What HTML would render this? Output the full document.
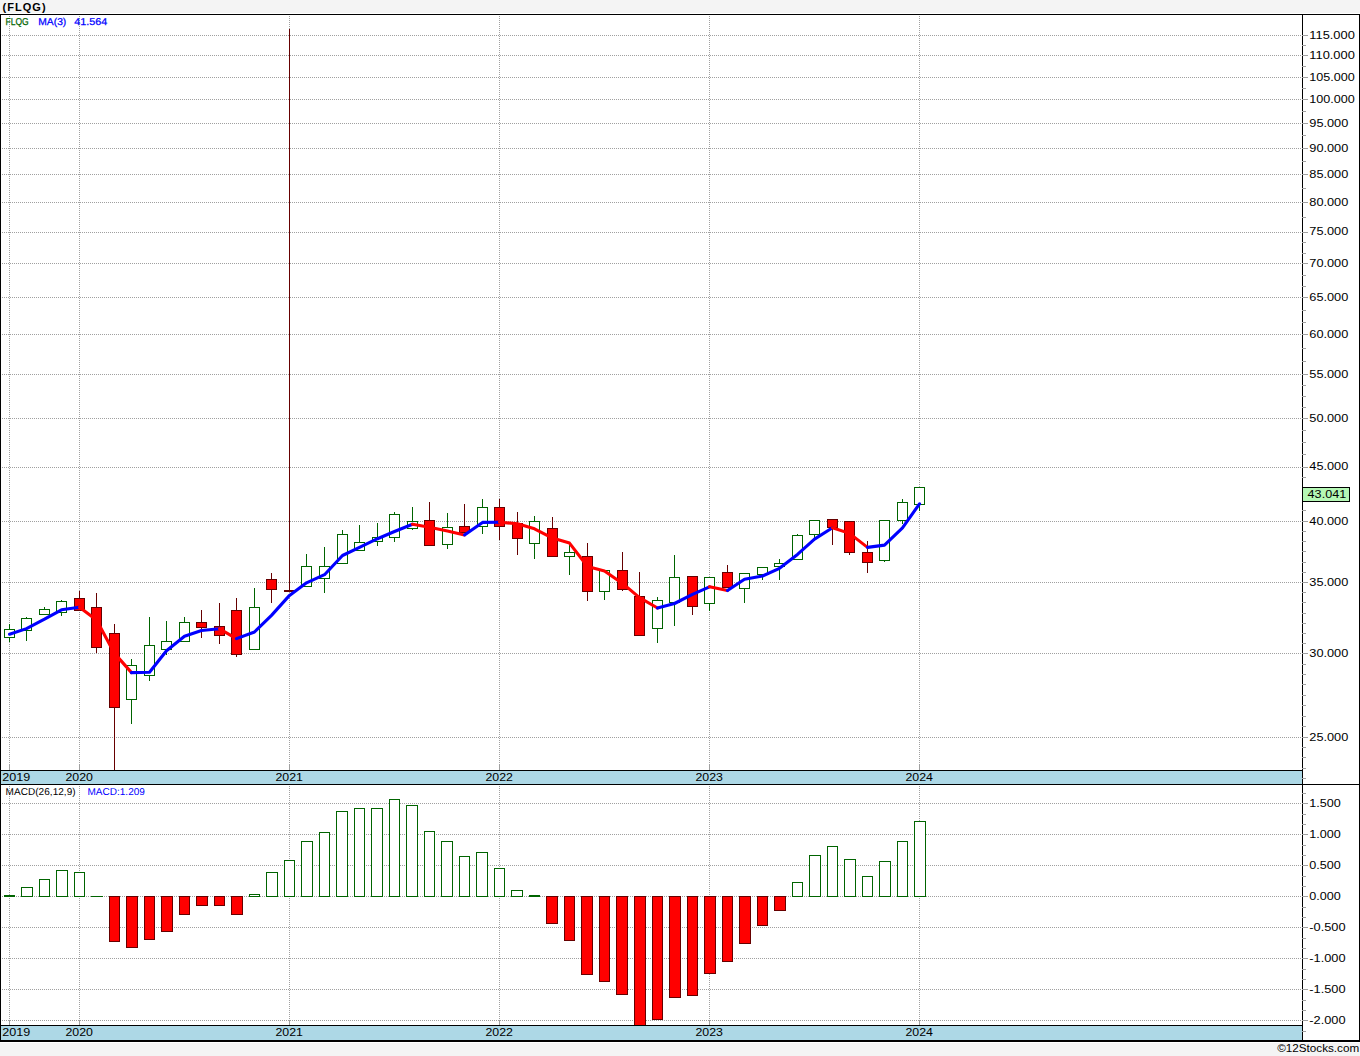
<!DOCTYPE html>
<html><head><meta charset="utf-8"><title>FLQG</title>
<style>html,body{margin:0;padding:0;background:#fff;width:1360px;height:1056px;overflow:hidden}
svg text{font-family:"Liberation Sans",sans-serif}</style></head>
<body><svg width="1360" height="1056" viewBox="0 0 1360 1056" shape-rendering="crispEdges" style="display:block"><rect x="0" y="0" width="1360" height="1056" fill="#ffffff"/>
<rect x="0" y="0" width="1360" height="13" fill="#f4f4f4"/>
<rect x="0" y="1043" width="1360" height="13" fill="#f4f4f4"/>
<path d="M0 737.5H1302 M0 653.5H1302 M0 582.5H1302 M0 521.5H1302 M0 467.5H1302 M0 418.5H1302 M0 374.5H1302 M0 334.5H1302 M0 297.5H1302 M0 263.5H1302 M0 232.5H1302 M0 202.5H1302 M0 174.5H1302 M0 148.5H1302 M0 123.5H1302 M0 99.5H1302 M0 77.5H1302 M0 55.5H1302 M0 35.5H1302" stroke="#a0a0a0" stroke-width="1" stroke-dasharray="1 1" fill="none"/>
<path d="M0 803.5H1302 M0 834.5H1302 M0 865.5H1302 M0 896.5H1302 M0 927.5H1302 M0 958.5H1302 M0 989.5H1302 M0 1020.5H1302" stroke="#a0a0a0" stroke-width="1" stroke-dasharray="1 1" fill="none"/>
<path d="M9.5 16V764 M9.5 786V1021 M79.5 16V764 M79.5 786V1021 M289.5 16V764 M289.5 786V1021 M499.5 16V764 M499.5 786V1021 M709.5 16V764 M709.5 786V1021 M919.5 16V764 M919.5 786V1021" stroke="#a0a0a0" stroke-width="1" stroke-dasharray="1 1" fill="none"/>
<path d="M9.5 764V770 M9.5 1021V1025 M79.5 764V770 M79.5 1021V1025 M289.5 764V770 M289.5 1021V1025 M499.5 764V770 M499.5 1021V1025 M709.5 764V770 M709.5 1021V1025 M919.5 764V770 M919.5 1021V1025" stroke="#a0a0a0" stroke-width="1" fill="none"/>
<path d="M9.5 624V642 M26.5 617V641 M44.5 607V615 M61.5 600V616 M131.5 659V724 M149.5 617V681 M166.5 621V655 M184.5 617V642 M254.5 588V650 M306.5 554V587 M324.5 547V593 M342.5 530V564 M359.5 525V551 M377.5 523V546 M394.5 512V542 M412.5 507V530 M447.5 513V549 M482.5 499V534 M534.5 516V559 M569.5 545V575 M604.5 570V600 M657.5 597V643 M674.5 555V626 M709.5 577V611 M744.5 573V603 M762.5 567V580 M779.5 559V580 M797.5 534V560 M814.5 520V538 M884.5 520V562 M902.5 499V524 M919.5 487V511" stroke="#006400" stroke-width="1" fill="none"/>
<path d="M79.5 591V611 M96.5 593V653 M114.5 624V770 M201.5 610V638 M219.5 603V644 M236.5 598V657 M271.5 573V603 M289.5 29V592 M429.5 502V546 M464.5 504V533 M499.5 499V540 M517.5 512V555 M552.5 517V557 M587.5 543V601 M622.5 552V591 M639.5 572V636 M692.5 576V615 M727.5 565V588 M832.5 519V545 M849.5 521V555 M867.5 541V573" stroke="#660000" stroke-width="1" fill="none"/>
<rect x="4" y="629" width="11" height="9" fill="#006400"/><rect x="5" y="630" width="9" height="7" fill="#ffffff"/><rect x="21" y="618" width="11" height="13" fill="#006400"/><rect x="22" y="619" width="9" height="11" fill="#ffffff"/><rect x="39" y="609" width="11" height="6" fill="#006400"/><rect x="40" y="610" width="9" height="4" fill="#ffffff"/><rect x="56" y="601" width="11" height="12" fill="#006400"/><rect x="57" y="602" width="9" height="10" fill="#ffffff"/><rect x="74" y="598" width="11" height="13" fill="#660000"/><rect x="75" y="599" width="9" height="11" fill="#ff0000"/><rect x="91" y="607" width="11" height="41" fill="#660000"/><rect x="92" y="608" width="9" height="39" fill="#ff0000"/><rect x="109" y="633" width="11" height="75" fill="#660000"/><rect x="110" y="634" width="9" height="73" fill="#ff0000"/><rect x="126" y="665" width="11" height="35" fill="#006400"/><rect x="127" y="666" width="9" height="33" fill="#ffffff"/><rect x="144" y="645" width="11" height="31" fill="#006400"/><rect x="145" y="646" width="9" height="29" fill="#ffffff"/><rect x="161" y="641" width="11" height="9" fill="#006400"/><rect x="162" y="642" width="9" height="7" fill="#ffffff"/><rect x="179" y="622" width="11" height="20" fill="#006400"/><rect x="180" y="623" width="9" height="18" fill="#ffffff"/><rect x="196" y="622" width="11" height="6" fill="#660000"/><rect x="197" y="623" width="9" height="4" fill="#ff0000"/><rect x="214" y="626" width="11" height="10" fill="#660000"/><rect x="215" y="627" width="9" height="8" fill="#ff0000"/><rect x="231" y="610" width="11" height="45" fill="#660000"/><rect x="232" y="611" width="9" height="43" fill="#ff0000"/><rect x="249" y="607" width="11" height="43" fill="#006400"/><rect x="250" y="608" width="9" height="41" fill="#ffffff"/><rect x="266" y="579" width="11" height="11" fill="#660000"/><rect x="267" y="580" width="9" height="9" fill="#ff0000"/><rect x="284" y="590" width="11" height="2" fill="#660000"/><rect x="301" y="566" width="11" height="21" fill="#006400"/><rect x="302" y="567" width="9" height="19" fill="#ffffff"/><rect x="319" y="566" width="11" height="13" fill="#006400"/><rect x="320" y="567" width="9" height="11" fill="#ffffff"/><rect x="337" y="534" width="11" height="30" fill="#006400"/><rect x="338" y="535" width="9" height="28" fill="#ffffff"/><rect x="354" y="542" width="11" height="9" fill="#006400"/><rect x="355" y="543" width="9" height="7" fill="#ffffff"/><rect x="372" y="537" width="11" height="5" fill="#006400"/><rect x="373" y="538" width="9" height="3" fill="#ffffff"/><rect x="389" y="514" width="11" height="24" fill="#006400"/><rect x="390" y="515" width="9" height="22" fill="#ffffff"/><rect x="407" y="521" width="11" height="8" fill="#006400"/><rect x="408" y="522" width="9" height="6" fill="#ffffff"/><rect x="424" y="520" width="11" height="26" fill="#660000"/><rect x="425" y="521" width="9" height="24" fill="#ff0000"/><rect x="442" y="527" width="11" height="18" fill="#006400"/><rect x="443" y="528" width="9" height="16" fill="#ffffff"/><rect x="459" y="526" width="11" height="7" fill="#660000"/><rect x="460" y="527" width="9" height="5" fill="#ff0000"/><rect x="477" y="507" width="11" height="20" fill="#006400"/><rect x="478" y="508" width="9" height="18" fill="#ffffff"/><rect x="494" y="507" width="11" height="20" fill="#660000"/><rect x="495" y="508" width="9" height="18" fill="#ff0000"/><rect x="512" y="523" width="11" height="16" fill="#660000"/><rect x="513" y="524" width="9" height="14" fill="#ff0000"/><rect x="529" y="521" width="11" height="23" fill="#006400"/><rect x="530" y="522" width="9" height="21" fill="#ffffff"/><rect x="547" y="528" width="11" height="29" fill="#660000"/><rect x="548" y="529" width="9" height="27" fill="#ff0000"/><rect x="564" y="552" width="11" height="5" fill="#006400"/><rect x="565" y="553" width="9" height="3" fill="#ffffff"/><rect x="582" y="556" width="11" height="36" fill="#660000"/><rect x="583" y="557" width="9" height="34" fill="#ff0000"/><rect x="599" y="570" width="11" height="22" fill="#006400"/><rect x="600" y="571" width="9" height="20" fill="#ffffff"/><rect x="617" y="570" width="11" height="20" fill="#660000"/><rect x="618" y="571" width="9" height="18" fill="#ff0000"/><rect x="634" y="596" width="11" height="40" fill="#660000"/><rect x="635" y="597" width="9" height="38" fill="#ff0000"/><rect x="652" y="600" width="11" height="29" fill="#006400"/><rect x="653" y="601" width="9" height="27" fill="#ffffff"/><rect x="669" y="577" width="11" height="26" fill="#006400"/><rect x="670" y="578" width="9" height="24" fill="#ffffff"/><rect x="687" y="576" width="11" height="31" fill="#660000"/><rect x="688" y="577" width="9" height="29" fill="#ff0000"/><rect x="704" y="577" width="11" height="27" fill="#006400"/><rect x="705" y="578" width="9" height="25" fill="#ffffff"/><rect x="722" y="572" width="11" height="16" fill="#660000"/><rect x="723" y="573" width="9" height="14" fill="#ff0000"/><rect x="739" y="573" width="11" height="16" fill="#006400"/><rect x="740" y="574" width="9" height="14" fill="#ffffff"/><rect x="757" y="567" width="11" height="8" fill="#006400"/><rect x="758" y="568" width="9" height="6" fill="#ffffff"/><rect x="774" y="563" width="11" height="4" fill="#006400"/><rect x="775" y="564" width="9" height="2" fill="#ffffff"/><rect x="792" y="535" width="11" height="25" fill="#006400"/><rect x="793" y="536" width="9" height="23" fill="#ffffff"/><rect x="809" y="520" width="11" height="15" fill="#006400"/><rect x="810" y="521" width="9" height="13" fill="#ffffff"/><rect x="827" y="519" width="11" height="9" fill="#660000"/><rect x="828" y="520" width="9" height="7" fill="#ff0000"/><rect x="844" y="521" width="11" height="32" fill="#660000"/><rect x="845" y="522" width="9" height="30" fill="#ff0000"/><rect x="862" y="552" width="11" height="11" fill="#660000"/><rect x="863" y="553" width="9" height="9" fill="#ff0000"/><rect x="879" y="520" width="11" height="41" fill="#006400"/><rect x="880" y="521" width="9" height="39" fill="#ffffff"/><rect x="897" y="502" width="11" height="19" fill="#006400"/><rect x="898" y="503" width="9" height="17" fill="#ffffff"/><rect x="914" y="487" width="11" height="18" fill="#006400"/><rect x="915" y="488" width="9" height="16" fill="#ffffff"/>
<path d="M9.5 634.2 L26.5 628.6 L44.5 619.2 L61.5 609.8 L79.5 607.3" stroke="#0000ff" stroke-width="3.1" fill="none" stroke-linejoin="round" stroke-linecap="round" shape-rendering="geometricPrecision"/>
<path d="M79.5 607.3 L96.5 619.9 L114.5 653.4 L131.5 672.6" stroke="#ff0000" stroke-width="3.1" fill="none" stroke-linejoin="round" stroke-linecap="round" shape-rendering="geometricPrecision"/>
<path d="M131.5 672.6 L149.5 672.3 L166.5 650.7 L184.5 636.2 L201.5 630.5 L219.5 628.8" stroke="#0000ff" stroke-width="3.1" fill="none" stroke-linejoin="round" stroke-linecap="round" shape-rendering="geometricPrecision"/>
<path d="M219.5 628.8 L236.5 638.6" stroke="#ff0000" stroke-width="3.1" fill="none" stroke-linejoin="round" stroke-linecap="round" shape-rendering="geometricPrecision"/>
<path d="M236.5 638.6 L254.5 632.0 L271.5 615.4 L289.5 595.4 L306.5 582.8 L324.5 574.7 L342.5 555.5 L359.5 547.3 L377.5 538.7 L394.5 531.5 L412.5 524.3" stroke="#0000ff" stroke-width="3.1" fill="none" stroke-linejoin="round" stroke-linecap="round" shape-rendering="geometricPrecision"/>
<path d="M412.5 524.3 L429.5 527.2 L447.5 531.1 L464.5 534.9" stroke="#ff0000" stroke-width="3.1" fill="none" stroke-linejoin="round" stroke-linecap="round" shape-rendering="geometricPrecision"/>
<path d="M464.5 534.9 L482.5 522.4 L499.5 522.2" stroke="#0000ff" stroke-width="3.1" fill="none" stroke-linejoin="round" stroke-linecap="round" shape-rendering="geometricPrecision"/>
<path d="M499.5 522.2 L517.5 523.7 L534.5 528.8 L552.5 538.1 L569.5 543.1 L587.5 566.5 L604.5 570.9 L622.5 583.4 L639.5 597.6 L657.5 608.0" stroke="#ff0000" stroke-width="3.1" fill="none" stroke-linejoin="round" stroke-linecap="round" shape-rendering="geometricPrecision"/>
<path d="M657.5 608.0 L674.5 603.5 L692.5 594.4 L709.5 586.8" stroke="#0000ff" stroke-width="3.1" fill="none" stroke-linejoin="round" stroke-linecap="round" shape-rendering="geometricPrecision"/>
<path d="M709.5 586.8 L727.5 590.5" stroke="#ff0000" stroke-width="3.1" fill="none" stroke-linejoin="round" stroke-linecap="round" shape-rendering="geometricPrecision"/>
<path d="M727.5 590.5 L744.5 579.3 L762.5 576.0 L779.5 568.3 L797.5 554.4 L814.5 539.1 L832.5 527.8" stroke="#0000ff" stroke-width="3.1" fill="none" stroke-linejoin="round" stroke-linecap="round" shape-rendering="geometricPrecision"/>
<path d="M832.5 527.8 L849.5 533.4 L867.5 547.4" stroke="#ff0000" stroke-width="3.1" fill="none" stroke-linejoin="round" stroke-linecap="round" shape-rendering="geometricPrecision"/>
<path d="M867.5 547.4 L884.5 545.1 L902.5 527.8 L919.5 503.8" stroke="#0000ff" stroke-width="3.1" fill="none" stroke-linejoin="round" stroke-linecap="round" shape-rendering="geometricPrecision"/>
<rect x="4" y="895" width="11" height="2" fill="#006400"/><rect x="21" y="887" width="12" height="10" fill="#006400"/><rect x="22" y="888" width="10" height="8" fill="#ffffff"/><rect x="39" y="879" width="11" height="18" fill="#006400"/><rect x="40" y="880" width="9" height="16" fill="#ffffff"/><rect x="56" y="870" width="12" height="27" fill="#006400"/><rect x="57" y="871" width="10" height="25" fill="#ffffff"/><rect x="74" y="872" width="11" height="25" fill="#006400"/><rect x="75" y="873" width="9" height="23" fill="#ffffff"/><rect x="91" y="896" width="12" height="1" fill="#006400"/><rect x="109" y="896" width="11" height="46" fill="#660000"/><rect x="110" y="897" width="9" height="44" fill="#ff0000"/><rect x="126" y="896" width="12" height="52" fill="#660000"/><rect x="127" y="897" width="10" height="50" fill="#ff0000"/><rect x="144" y="896" width="11" height="44" fill="#660000"/><rect x="145" y="897" width="9" height="42" fill="#ff0000"/><rect x="161" y="896" width="12" height="36" fill="#660000"/><rect x="162" y="897" width="10" height="34" fill="#ff0000"/><rect x="179" y="896" width="11" height="19" fill="#660000"/><rect x="180" y="897" width="9" height="17" fill="#ff0000"/><rect x="196" y="896" width="12" height="10" fill="#660000"/><rect x="197" y="897" width="10" height="8" fill="#ff0000"/><rect x="214" y="896" width="11" height="10" fill="#660000"/><rect x="215" y="897" width="9" height="8" fill="#ff0000"/><rect x="231" y="896" width="12" height="19" fill="#660000"/><rect x="232" y="897" width="10" height="17" fill="#ff0000"/><rect x="249" y="894" width="11" height="3" fill="#006400"/><rect x="250" y="895" width="9" height="1" fill="#ffffff"/><rect x="266" y="872" width="12" height="25" fill="#006400"/><rect x="267" y="873" width="10" height="23" fill="#ffffff"/><rect x="284" y="860" width="11" height="37" fill="#006400"/><rect x="285" y="861" width="9" height="35" fill="#ffffff"/><rect x="301" y="841" width="12" height="56" fill="#006400"/><rect x="302" y="842" width="10" height="54" fill="#ffffff"/><rect x="319" y="832" width="11" height="65" fill="#006400"/><rect x="320" y="833" width="9" height="63" fill="#ffffff"/><rect x="336" y="811" width="12" height="86" fill="#006400"/><rect x="337" y="812" width="10" height="84" fill="#ffffff"/><rect x="354" y="808" width="11" height="89" fill="#006400"/><rect x="355" y="809" width="9" height="87" fill="#ffffff"/><rect x="371" y="808" width="12" height="89" fill="#006400"/><rect x="372" y="809" width="10" height="87" fill="#ffffff"/><rect x="389" y="799" width="11" height="98" fill="#006400"/><rect x="390" y="800" width="9" height="96" fill="#ffffff"/><rect x="406" y="805" width="12" height="92" fill="#006400"/><rect x="407" y="806" width="10" height="90" fill="#ffffff"/><rect x="424" y="831" width="11" height="66" fill="#006400"/><rect x="425" y="832" width="9" height="64" fill="#ffffff"/><rect x="441" y="841" width="12" height="56" fill="#006400"/><rect x="442" y="842" width="10" height="54" fill="#ffffff"/><rect x="459" y="856" width="11" height="41" fill="#006400"/><rect x="460" y="857" width="9" height="39" fill="#ffffff"/><rect x="476" y="852" width="12" height="45" fill="#006400"/><rect x="477" y="853" width="10" height="43" fill="#ffffff"/><rect x="494" y="868" width="11" height="29" fill="#006400"/><rect x="495" y="869" width="9" height="27" fill="#ffffff"/><rect x="511" y="890" width="12" height="7" fill="#006400"/><rect x="512" y="891" width="10" height="5" fill="#ffffff"/><rect x="529" y="895" width="11" height="2" fill="#006400"/><rect x="546" y="896" width="12" height="28" fill="#660000"/><rect x="547" y="897" width="10" height="26" fill="#ff0000"/><rect x="564" y="896" width="11" height="45" fill="#660000"/><rect x="565" y="897" width="9" height="43" fill="#ff0000"/><rect x="581" y="896" width="12" height="79" fill="#660000"/><rect x="582" y="897" width="10" height="77" fill="#ff0000"/><rect x="599" y="896" width="11" height="86" fill="#660000"/><rect x="600" y="897" width="9" height="84" fill="#ff0000"/><rect x="616" y="896" width="12" height="99" fill="#660000"/><rect x="617" y="897" width="10" height="97" fill="#ff0000"/><rect x="634" y="896" width="12" height="129" fill="#660000"/><rect x="635" y="897" width="10" height="128" fill="#ff0000"/><rect x="652" y="896" width="11" height="124" fill="#660000"/><rect x="653" y="897" width="9" height="122" fill="#ff0000"/><rect x="669" y="896" width="12" height="102" fill="#660000"/><rect x="670" y="897" width="10" height="100" fill="#ff0000"/><rect x="687" y="896" width="11" height="100" fill="#660000"/><rect x="688" y="897" width="9" height="98" fill="#ff0000"/><rect x="704" y="896" width="12" height="78" fill="#660000"/><rect x="705" y="897" width="10" height="76" fill="#ff0000"/><rect x="722" y="896" width="11" height="66" fill="#660000"/><rect x="723" y="897" width="9" height="64" fill="#ff0000"/><rect x="739" y="896" width="12" height="48" fill="#660000"/><rect x="740" y="897" width="10" height="46" fill="#ff0000"/><rect x="757" y="896" width="11" height="30" fill="#660000"/><rect x="758" y="897" width="9" height="28" fill="#ff0000"/><rect x="774" y="896" width="12" height="15" fill="#660000"/><rect x="775" y="897" width="10" height="13" fill="#ff0000"/><rect x="792" y="882" width="11" height="15" fill="#006400"/><rect x="793" y="883" width="9" height="13" fill="#ffffff"/><rect x="809" y="855" width="12" height="42" fill="#006400"/><rect x="810" y="856" width="10" height="40" fill="#ffffff"/><rect x="827" y="846" width="11" height="51" fill="#006400"/><rect x="828" y="847" width="9" height="49" fill="#ffffff"/><rect x="844" y="859" width="12" height="38" fill="#006400"/><rect x="845" y="860" width="10" height="36" fill="#ffffff"/><rect x="862" y="876" width="11" height="21" fill="#006400"/><rect x="863" y="877" width="9" height="19" fill="#ffffff"/><rect x="879" y="861" width="12" height="36" fill="#006400"/><rect x="880" y="862" width="10" height="34" fill="#ffffff"/><rect x="897" y="841" width="11" height="56" fill="#006400"/><rect x="898" y="842" width="9" height="54" fill="#ffffff"/><rect x="914" y="821" width="12" height="76" fill="#006400"/><rect x="915" y="822" width="10" height="74" fill="#ffffff"/>
<rect x="1" y="771" width="1301" height="13" fill="#add8e6"/>
<rect x="1" y="1026" width="1301" height="14" fill="#add8e6"/>
<path d="M0 14.5H1360 M0.5 14V1042 M1359.5 14V1042 M1302.5 14V1042 M0 770.5H1302 M0 784.5H1360 M0 1025.5H1302" stroke="#000" stroke-width="1" fill="none"/>
<rect x="0" y="1040" width="1360" height="2" fill="#000"/>
<path d="M1302 737.5H1308 M1302 653.5H1308 M1302 582.5H1308 M1302 521.5H1308 M1302 467.5H1308 M1302 418.5H1308 M1302 374.5H1308 M1302 334.5H1308 M1302 297.5H1308 M1302 263.5H1308 M1302 232.5H1308 M1302 202.5H1308 M1302 174.5H1308 M1302 148.5H1308 M1302 123.5H1308 M1302 99.5H1308 M1302 77.5H1308 M1302 55.5H1308 M1302 35.5H1308 M1302 45.5H1306 M1302 66.5H1306 M1302 88.5H1306 M1302 111.5H1306 M1302 135.5H1306 M1302 161.5H1306 M1302 188.5H1306 M1302 217.5H1306 M1302 242.5H1306 M1302 253.5H1306 M1302 275.5H1306 M1302 286.5H1306 M1302 310.5H1306 M1302 322.5H1306 M1302 348.5H1306 M1302 361.5H1306 M1302 385.5H1306 M1302 396.5H1306 M1302 407.5H1306 M1302 430.5H1306 M1302 442.5H1306 M1302 454.5H1306 M1302 477.5H1306 M1302 488.5H1306 M1302 499.5H1306 M1302 510.5H1306 M1302 531.5H1306 M1302 541.5H1306 M1302 551.5H1306 M1302 562.5H1306 M1302 572.5H1306 M1302 592.5H1306 M1302 602.5H1306 M1302 613.5H1306 M1302 623.5H1306 M1302 633.5H1306 M1302 643.5H1306 M1302 664.5H1306 M1302 674.5H1306 M1302 684.5H1306 M1302 695.5H1306 M1302 705.5H1306 M1302 716.5H1306 M1302 726.5H1306 M1302 747.5H1306 M1302 757.5H1306 M1302 768.5H1306 M1302 778.5H1306 M1302 803.5H1308 M1302 834.5H1308 M1302 865.5H1308 M1302 896.5H1308 M1302 927.5H1308 M1302 958.5H1308 M1302 989.5H1308 M1302 1020.5H1308 M1302 793.5H1306 M1302 814.5H1306 M1302 824.5H1306 M1302 845.5H1306 M1302 855.5H1306 M1302 876.5H1306 M1302 886.5H1306 M1302 907.5H1306 M1302 917.5H1306 M1302 938.5H1306 M1302 948.5H1306 M1302 969.5H1306 M1302 979.5H1306 M1302 1000.5H1306 M1302 1010.5H1306 M1302 1031.5H1306" stroke="#a0a0a0" stroke-width="1" fill="none"/>
<rect x="1302" y="487" width="48" height="15" fill="#000"/>
<rect x="1303" y="488" width="46" height="13" fill="#b5f7b5"/>
<g font-family='"Liberation Sans", sans-serif' shape-rendering="auto"><text x="2.6" y="11" font-size="11" fill="#000" font-weight="bold" text-anchor="start" textLength="43" lengthAdjust="spacing">(FLQG)</text><text x="5.5" y="25" font-size="10" fill="#006400" font-weight="normal" text-anchor="start" textLength="23.2" lengthAdjust="spacingAndGlyphs" stroke="#006400" stroke-width="0.25" text-rendering="geometricPrecision">FLQG</text><text x="38.3" y="25" font-size="10" fill="#0000ff" font-weight="normal" text-anchor="start" textLength="28" lengthAdjust="spacingAndGlyphs" stroke="#0000ff" stroke-width="0.25" text-rendering="geometricPrecision">MA(3)</text><text x="74.2" y="25" font-size="10" fill="#0000ff" font-weight="normal" text-anchor="start" textLength="33" lengthAdjust="spacingAndGlyphs" stroke="#0000ff" stroke-width="0.25" text-rendering="geometricPrecision">41.564</text><text x="1309.3" y="741" font-size="11" fill="#000" font-weight="normal" text-anchor="start" textLength="39" lengthAdjust="spacingAndGlyphs">25.000</text><text x="1309.3" y="657" font-size="11" fill="#000" font-weight="normal" text-anchor="start" textLength="39" lengthAdjust="spacingAndGlyphs">30.000</text><text x="1309.3" y="586" font-size="11" fill="#000" font-weight="normal" text-anchor="start" textLength="39" lengthAdjust="spacingAndGlyphs">35.000</text><text x="1309.3" y="525" font-size="11" fill="#000" font-weight="normal" text-anchor="start" textLength="39" lengthAdjust="spacingAndGlyphs">40.000</text><text x="1309.3" y="470" font-size="11" fill="#000" font-weight="normal" text-anchor="start" textLength="39" lengthAdjust="spacingAndGlyphs">45.000</text><text x="1309.3" y="422" font-size="11" fill="#000" font-weight="normal" text-anchor="start" textLength="39" lengthAdjust="spacingAndGlyphs">50.000</text><text x="1309.3" y="378" font-size="11" fill="#000" font-weight="normal" text-anchor="start" textLength="39" lengthAdjust="spacingAndGlyphs">55.000</text><text x="1309.3" y="338" font-size="11" fill="#000" font-weight="normal" text-anchor="start" textLength="39" lengthAdjust="spacingAndGlyphs">60.000</text><text x="1309.3" y="301" font-size="11" fill="#000" font-weight="normal" text-anchor="start" textLength="39" lengthAdjust="spacingAndGlyphs">65.000</text><text x="1309.3" y="267" font-size="11" fill="#000" font-weight="normal" text-anchor="start" textLength="39" lengthAdjust="spacingAndGlyphs">70.000</text><text x="1309.3" y="235" font-size="11" fill="#000" font-weight="normal" text-anchor="start" textLength="39" lengthAdjust="spacingAndGlyphs">75.000</text><text x="1309.3" y="206" font-size="11" fill="#000" font-weight="normal" text-anchor="start" textLength="39" lengthAdjust="spacingAndGlyphs">80.000</text><text x="1309.3" y="178" font-size="11" fill="#000" font-weight="normal" text-anchor="start" textLength="39" lengthAdjust="spacingAndGlyphs">85.000</text><text x="1309.3" y="152" font-size="11" fill="#000" font-weight="normal" text-anchor="start" textLength="39" lengthAdjust="spacingAndGlyphs">90.000</text><text x="1309.3" y="127" font-size="11" fill="#000" font-weight="normal" text-anchor="start" textLength="39" lengthAdjust="spacingAndGlyphs">95.000</text><text x="1309.3" y="103" font-size="11" fill="#000" font-weight="normal" text-anchor="start" textLength="45.5" lengthAdjust="spacingAndGlyphs">100.000</text><text x="1309.3" y="81" font-size="11" fill="#000" font-weight="normal" text-anchor="start" textLength="45.5" lengthAdjust="spacingAndGlyphs">105.000</text><text x="1309.3" y="59" font-size="11" fill="#000" font-weight="normal" text-anchor="start" textLength="45.5" lengthAdjust="spacingAndGlyphs">110.000</text><text x="1309.3" y="39" font-size="11" fill="#000" font-weight="normal" text-anchor="start" textLength="45.5" lengthAdjust="spacingAndGlyphs">115.000</text><text x="1307.6" y="498" font-size="11" fill="#000" font-weight="normal" text-anchor="start" textLength="38.6" lengthAdjust="spacingAndGlyphs">43.041</text><text x="1309.3" y="807" font-size="11" fill="#000" font-weight="normal" text-anchor="start" textLength="31.5" lengthAdjust="spacingAndGlyphs">1.500</text><text x="1309.3" y="838" font-size="11" fill="#000" font-weight="normal" text-anchor="start" textLength="31.5" lengthAdjust="spacingAndGlyphs">1.000</text><text x="1309.3" y="869" font-size="11" fill="#000" font-weight="normal" text-anchor="start" textLength="31.5" lengthAdjust="spacingAndGlyphs">0.500</text><text x="1309.3" y="900" font-size="11" fill="#000" font-weight="normal" text-anchor="start" textLength="31.5" lengthAdjust="spacingAndGlyphs">0.000</text><text x="1309.3" y="931" font-size="11" fill="#000" font-weight="normal" text-anchor="start" textLength="36.3" lengthAdjust="spacingAndGlyphs">-0.500</text><text x="1309.3" y="962" font-size="11" fill="#000" font-weight="normal" text-anchor="start" textLength="36.3" lengthAdjust="spacingAndGlyphs">-1.000</text><text x="1309.3" y="993" font-size="11" fill="#000" font-weight="normal" text-anchor="start" textLength="36.3" lengthAdjust="spacingAndGlyphs">-1.500</text><text x="1309.3" y="1024" font-size="11" fill="#000" font-weight="normal" text-anchor="start" textLength="36.3" lengthAdjust="spacingAndGlyphs">-2.000</text><text x="2.2" y="781" font-size="11" fill="#000" font-weight="normal" text-anchor="start" textLength="28" lengthAdjust="spacingAndGlyphs">2019</text><text x="65.4" y="781" font-size="11" fill="#000" font-weight="normal" text-anchor="start" textLength="27.5" lengthAdjust="spacingAndGlyphs">2020</text><text x="275.4" y="781" font-size="11" fill="#000" font-weight="normal" text-anchor="start" textLength="27.5" lengthAdjust="spacingAndGlyphs">2021</text><text x="485.4" y="781" font-size="11" fill="#000" font-weight="normal" text-anchor="start" textLength="27.5" lengthAdjust="spacingAndGlyphs">2022</text><text x="695.4" y="781" font-size="11" fill="#000" font-weight="normal" text-anchor="start" textLength="27.5" lengthAdjust="spacingAndGlyphs">2023</text><text x="905.4" y="781" font-size="11" fill="#000" font-weight="normal" text-anchor="start" textLength="27.5" lengthAdjust="spacingAndGlyphs">2024</text><text x="2.2" y="1036" font-size="11" fill="#000" font-weight="normal" text-anchor="start" textLength="28" lengthAdjust="spacingAndGlyphs">2019</text><text x="65.4" y="1036" font-size="11" fill="#000" font-weight="normal" text-anchor="start" textLength="27.5" lengthAdjust="spacingAndGlyphs">2020</text><text x="275.4" y="1036" font-size="11" fill="#000" font-weight="normal" text-anchor="start" textLength="27.5" lengthAdjust="spacingAndGlyphs">2021</text><text x="485.4" y="1036" font-size="11" fill="#000" font-weight="normal" text-anchor="start" textLength="27.5" lengthAdjust="spacingAndGlyphs">2022</text><text x="695.4" y="1036" font-size="11" fill="#000" font-weight="normal" text-anchor="start" textLength="27.5" lengthAdjust="spacingAndGlyphs">2023</text><text x="905.4" y="1036" font-size="11" fill="#000" font-weight="normal" text-anchor="start" textLength="27.5" lengthAdjust="spacingAndGlyphs">2024</text><text x="5.6" y="795" font-size="10" fill="#000000" font-weight="normal" text-anchor="start" textLength="70" lengthAdjust="spacing" text-rendering="geometricPrecision">MACD(26,12,9)</text><text x="87.4" y="795" font-size="10" fill="#0000ff" font-weight="normal" text-anchor="start" textLength="57.5" lengthAdjust="spacing" text-rendering="geometricPrecision">MACD:1.209</text><text x="1277.2" y="1052" font-size="11" fill="#000" font-weight="normal" text-anchor="start" textLength="82" lengthAdjust="spacingAndGlyphs">©12Stocks.com</text></g></svg></body></html>
